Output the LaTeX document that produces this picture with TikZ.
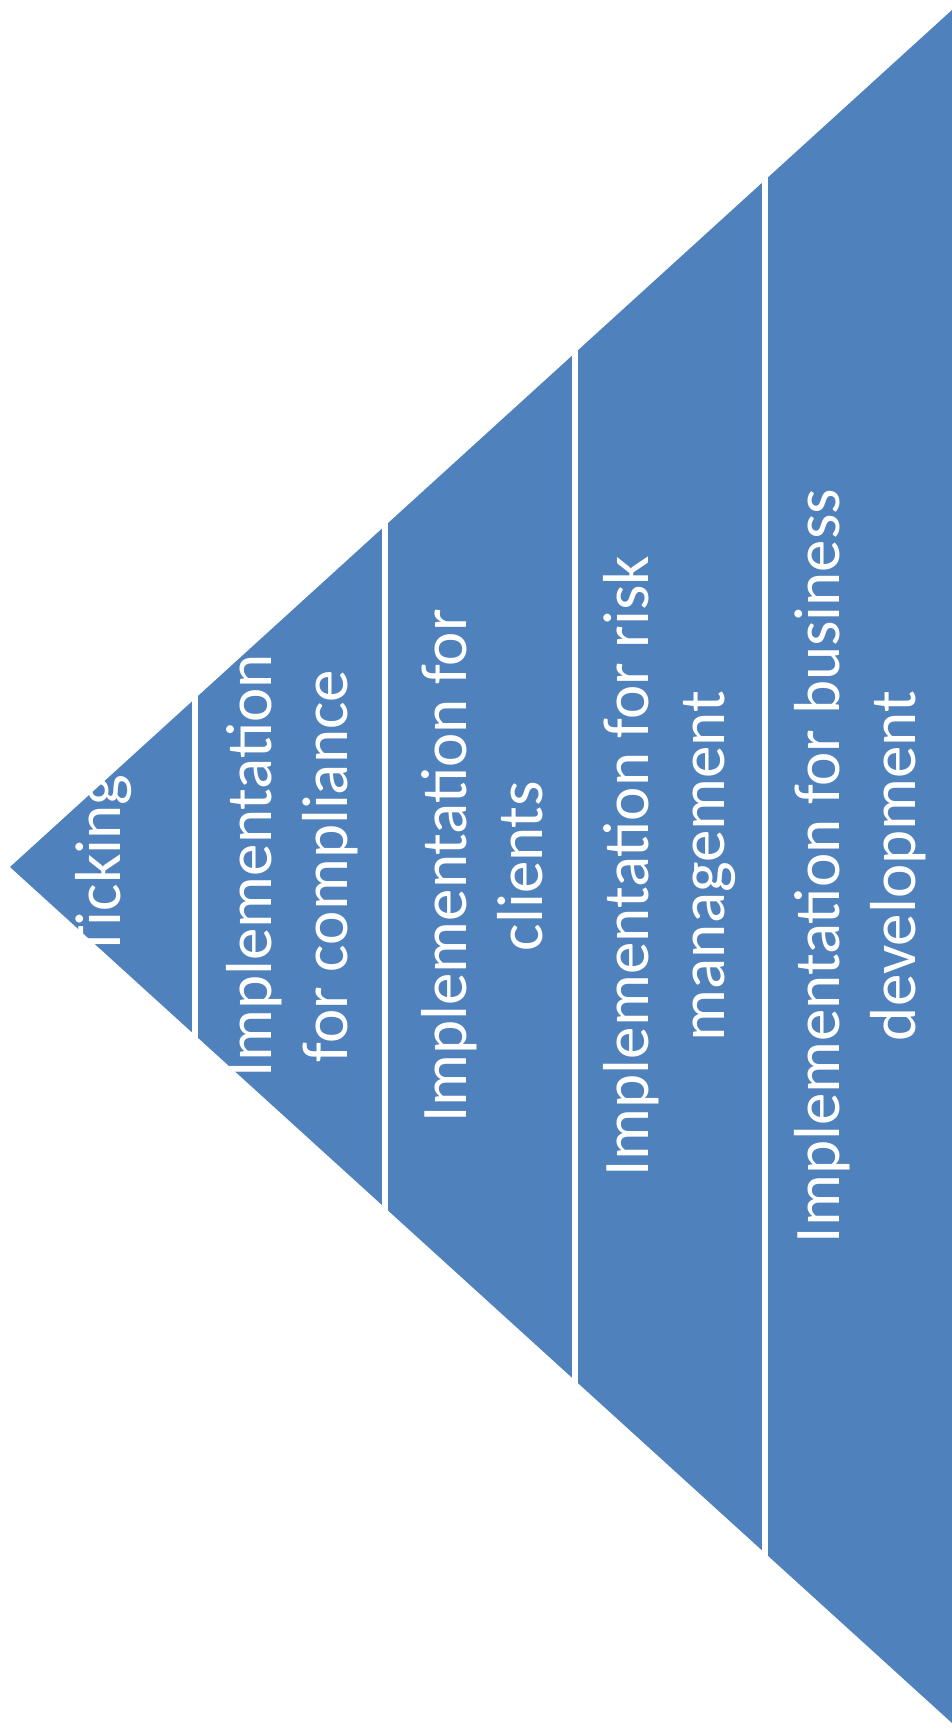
\documentclass[tikz,border=0pt]{standalone}
\usepackage{fontspec}
\setmainfont{Carlito}
\definecolor{pyrblue}{RGB}{79,129,189}
\begin{document}
\begin{tikzpicture}[x=1pt,y=-1pt,
  sep/.style={draw=white,line width=5.5pt},
  lbl/.style={text=white,rotate=90,align=center,font=\fontsize{65}{76}\selectfont,inner sep=0pt}]
\useasboundingbox[fill=white] (0,0) rectangle (952,1729);
\coordinate (apex) at (10,867);
\coordinate (tr) at (952,10);
\coordinate (br) at (952,1723);
\fill[pyrblue] (apex) -- (tr) -- (br) -- cycle;
\foreach \x/\n in {195/a,385/b,575/c,765/d}{
  \coordinate (\n1) at (\x,0);
  \coordinate (\n2) at (\x,1729);
  \draw[sep] (\n1) -- (\n2);
}
\node[lbl] (t1) at (104,866) {Ticking};
\node[lbl] (t2) at (292,866) {Implementation\\for compliance};
\node[lbl] (t3) at (482,866) {Implementation for\\clients};
\node[lbl] (t4) at (670,866) {Implementation for risk\\management};
\node[lbl] (t5) at (860,866) {Implementation for business\\development};
\end{tikzpicture}
\end{document}
